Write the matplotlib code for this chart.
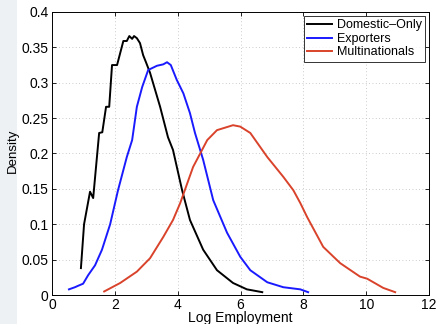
import matplotlib
matplotlib.use("Agg")
import matplotlib.pyplot as plt
from matplotlib.patches import Rectangle

plt.rcParams['font.family'] = ['Liberation Sans', 'DejaVu Sans']

# Kernel density estimates of log employment by firm type
dom_x = [0.92, 1.02, 1.21, 1.31, 1.50, 1.60, 1.72, 1.82, 1.91, 2.07, 2.27, 2.38, 2.46,
         2.55, 2.61, 2.70, 2.80, 2.90, 2.99, 3.12, 3.44, 3.69, 3.85, 4.14, 4.39, 4.81,
         5.25, 5.76, 6.20, 6.69]
dom_y = [0.038, 0.100, 0.146, 0.137, 0.229, 0.230, 0.266, 0.266, 0.325, 0.325, 0.359,
         0.359, 0.366, 0.362, 0.366, 0.363, 0.356, 0.339, 0.329, 0.314, 0.266, 0.223,
         0.205, 0.148, 0.106, 0.064, 0.035, 0.017, 0.008, 0.004]

exp_x = [0.54, 0.73, 0.83, 0.99, 1.15, 1.37, 1.59, 1.85, 2.10, 2.38, 2.55, 2.70, 2.87,
         3.06, 3.34, 3.54, 3.66, 3.78, 3.97, 4.18, 4.39, 4.55, 4.81, 5.13, 5.57, 5.99,
         6.31, 6.85, 7.36, 7.90, 8.15]
exp_y = [0.008, 0.011, 0.013, 0.016, 0.028, 0.042, 0.064, 0.100, 0.148, 0.195, 0.219,
         0.266, 0.294, 0.318, 0.324, 0.326, 0.329, 0.325, 0.304, 0.285, 0.257, 0.229,
         0.191, 0.134, 0.088, 0.054, 0.035, 0.018, 0.011, 0.008, 0.004]

mnc_x = [1.66, 2.17, 2.70, 3.12, 3.54, 3.85, 4.08, 4.49, 4.94, 5.25, 5.76, 5.99, 6.31,
         6.85, 7.36, 7.68, 7.90, 8.12, 8.63, 9.17, 9.80, 10.03, 10.54, 10.92]
mnc_y = [0.005, 0.017, 0.033, 0.052, 0.082, 0.106, 0.130, 0.181, 0.219, 0.233, 0.240,
         0.238, 0.229, 0.195, 0.167, 0.148, 0.130, 0.110, 0.068, 0.045, 0.026, 0.023,
         0.010, 0.004]

labels = ['Domestic\u2013Only', 'Exporters', 'Multinationals']
colors = ['#000000', '#1a1aff', '#d9432b']
x_ticks = [0, 2, 4, 6, 8, 10, 12]
y_ticks = [0, 0.05, 0.1, 0.15, 0.2, 0.25, 0.3, 0.35, 0.4]
y_tick_labels = ['0', '0.05', '0.1', '0.15', '0.2', '0.25', '0.3', '0.35', '0.4']

fig = plt.figure(figsize=(4.37, 3.24), dpi=100)
fig.patches.append(Rectangle((0, 0), 17 / 437, 1, transform=fig.transFigure,
                             facecolor='#edf1f4', edgecolor='none', zorder=-10))
ax = fig.add_axes([0.119, 0.0895, 0.863, 0.8735])

for xs, ys, lab, c in zip([dom_x, exp_x, mnc_x], [dom_y, exp_y, mnc_y], labels, colors):
    ax.plot(xs, ys, color=c, lw=1.4, label=lab)

ax.set_xlim(0, 12)
ax.set_ylim(0, 0.4)
ax.set_xticks(x_ticks)
ax.set_yticks(y_ticks)
ax.set_yticklabels(y_tick_labels)
ax.tick_params(direction='in', top=True, right=True, labelsize=10, length=3,
               width=0.6, pad=2.5)
ax.grid(True, linestyle=(0, (1, 3)), color='#bbbbbb', linewidth=0.6)
for s in ax.spines.values():
    s.set_linewidth(0.7)

ax.set_xlabel('Log Employment', fontsize=10, labelpad=-1)
ax.set_ylabel('Density', fontsize=9.5)
ax.yaxis.set_label_coords(-0.087, 0.51)

leg = ax.legend(loc='upper right', fontsize=9, frameon=True, fancybox=False,
                borderpad=0.3, handlelength=2.0, handletextpad=0.35,
                labelspacing=0.12, borderaxespad=0.3)
leg.get_frame().set_edgecolor('black')
leg.get_frame().set_linewidth(0.7)

fig.savefig('out.png', dpi=100)
